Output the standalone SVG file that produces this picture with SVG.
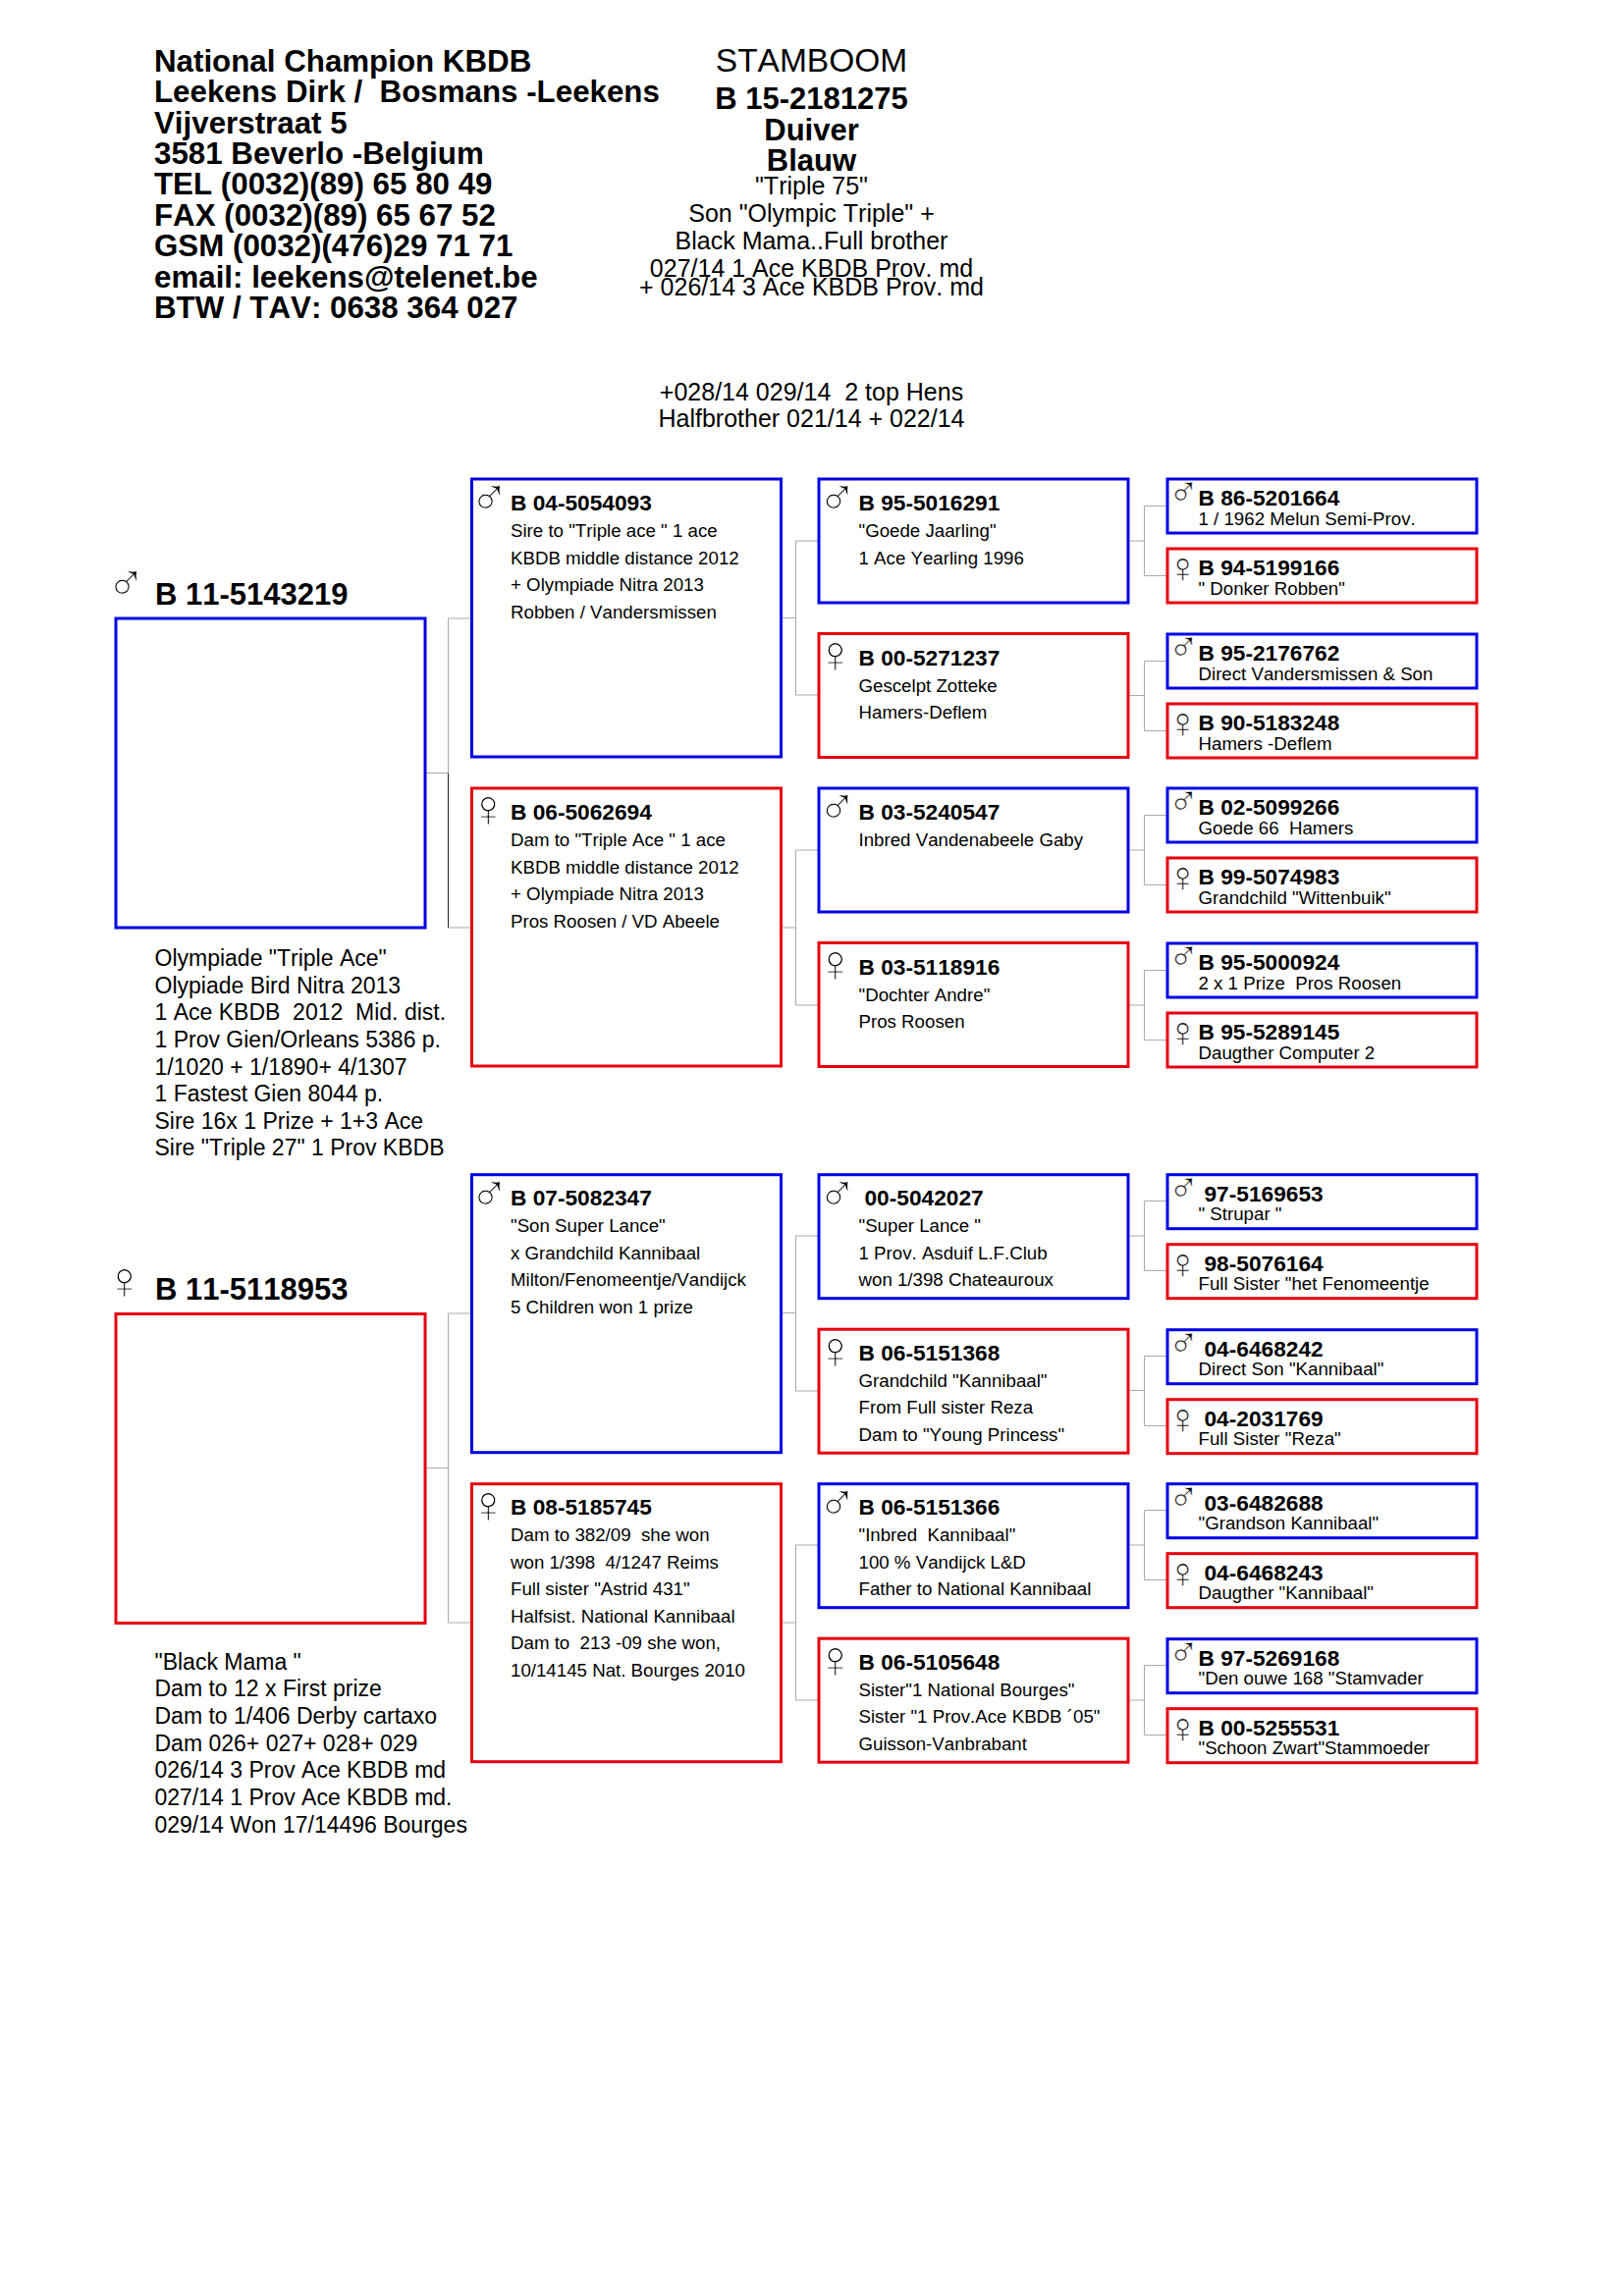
<svg xmlns="http://www.w3.org/2000/svg" width="1653" height="2339" viewBox="0 0 1653 2339">
<style>
text{font-family:"Liberation Sans",Arial,sans-serif;fill:#000;font-kerning:none;white-space:pre}
.h{font-size:31.3px;font-weight:bold}
.c{font-size:25px;text-anchor:middle}
.cb{font-size:31px;font-weight:bold;text-anchor:middle}
.n{font-size:22.7px;font-weight:bold}
.d{font-size:18.7px}
.t{font-size:23px}
.g1{font-size:31px;font-weight:bold}
.sm,.sf{stroke:#fff;stroke-width:.8px}
.sm4,.sf4{stroke:#fff;stroke-width:.45px}
.sm{font-size:54px}.sf{font-size:54px}.sm4{font-size:42px}.sf4{font-size:43px}
rect{fill:#fff;stroke-width:3}
.m{stroke:#0000e6}.f{stroke:#e6000f}
#connectors path{fill:none;stroke:#aaa;stroke-width:1}
</style>
<g id="connectors">
<path d="M433 787.5H456.5M456.5 630V945M456.5 630H481M456.5 945H481"/>
<path d="M433 1495.5H456.5M456.5 1338V1653M456.5 1338H481M456.5 1653H481"/>
<path style="stroke:#222" d="M456.5 787.5V945"/>
<path d="M796 629.5H810.5M810.5 551V708M810.5 551H834M810.5 708H834"/>
<path d="M796 945H810.5M810.5 866V1024M810.5 866H834M810.5 1024H834"/>
<path d="M796 1337.5H810.5M810.5 1259V1417M810.5 1259H834M810.5 1417H834"/>
<path d="M796 1653H810.5M810.5 1574V1732M810.5 1574H834M810.5 1732H834"/>
<path d="M1149 551H1165.5M1165.5 515.5V586.5M1165.5 515.5H1189M1165.5 586.5H1189"/>
<path d="M1149 708.5H1165.5M1165.5 673.5V744.5M1165.5 673.5H1189M1165.5 744.5H1189"/>
<path d="M1149 866H1165.5M1165.5 830.5V901.5M1165.5 830.5H1189M1165.5 901.5H1189"/>
<path d="M1149 1024H1165.5M1165.5 988.5V1059.5M1165.5 988.5H1189M1165.5 1059.5H1189"/>
<path d="M1149 1259H1165.5M1165.5 1223.5V1294.5M1165.5 1223.5H1189M1165.5 1294.5H1189"/>
<path d="M1149 1416.5H1165.5M1165.5 1381.5V1452.5M1165.5 1381.5H1189M1165.5 1452.5H1189"/>
<path d="M1149 1574H1165.5M1165.5 1538.5V1609.5M1165.5 1538.5H1189M1165.5 1609.5H1189"/>
<path d="M1149 1732H1165.5M1165.5 1696.5V1767.5M1165.5 1696.5H1189M1165.5 1767.5H1189"/>
</g>
<g id="header">
<text class="h" x="157" y="73">National Champion KBDB</text>
<text class="h" x="157" y="104">Leekens Dirk /  Bosmans -Leekens</text>
<text class="h" x="157" y="136">Vijverstraat 5</text>
<text class="h" x="157" y="167">3581 Beverlo -Belgium</text>
<text class="h" x="157" y="198">TEL (0032)(89) 65 80 49</text>
<text class="h" x="157" y="230">FAX (0032)(89) 65 67 52</text>
<text class="h" x="157" y="261">GSM (0032)(476)29 71 71</text>
<text class="h" x="157" y="293">email: leekens@telenet.be</text>
<text class="h" x="157" y="324">BTW / TAV: 0638 364 027</text>
</g>
<g id="title">
<text x="826.5" y="73" font-size="33.5" text-anchor="middle">STAMBOOM</text>
<text class="cb" x="826.5" y="111">B 15-2181275</text>
<text class="cb" x="826.5" y="143">Duiver</text>
<text class="cb" x="826.5" y="174">Blauw</text>
<text class="c" x="826.5" y="198">"Triple 75"</text>
<text class="c" x="826.5" y="226">Son "Olympic Triple" +</text>
<text class="c" x="826.5" y="254">Black Mama..Full brother</text>
<text class="c" x="826.5" y="282">027/14 1 Ace KBDB Prov. md</text>
<text class="c" x="826.5" y="301">+ 026/14 3 Ace KBDB Prov. md</text>
<text class="c" x="826.5" y="408">+028/14 029/14  2 top Hens</text>
<text class="c" x="826.5" y="435">Halfbrother 021/14 + 022/14</text>
</g>
<g id="n-b11-5143219">
<text class="sm" x="108" y="612">♂</text>
<text class="g1" x="158" y="616">B 11-5143219</text>
<rect class="m" x="118" y="630" width="315" height="315"/>
<text class="t" x="157.5" y="984">Olympiade "Triple Ace"</text>
<text class="t" x="157.5" y="1012">Olypiade Bird Nitra 2013</text>
<text class="t" x="157.5" y="1039">1 Ace KBDB  2012  Mid. dist.</text>
<text class="t" x="157.5" y="1067">1 Prov Gien/Orleans 5386 p.</text>
<text class="t" x="157.5" y="1095">1/1020 + 1/1890+ 4/1307</text>
<text class="t" x="157.5" y="1122">1 Fastest Gien 8044 p.</text>
<text class="t" x="157.5" y="1150">Sire 16x 1 Prize + 1+3 Ace</text>
<text class="t" x="157.5" y="1177">Sire "Triple 27" 1 Prov KBDB</text>
</g>
<g id="n-b11-5118953">
<text class="sf" x="106.5" y="1323">♀</text>
<text class="g1" x="158" y="1324">B 11-5118953</text>
<rect class="f" x="118" y="1338.5" width="315" height="315"/>
<text class="t" x="157.5" y="1700.5">"Black Mama "</text>
<text class="t" x="157.5" y="1728">Dam to 12 x First prize</text>
<text class="t" x="157.5" y="1755.5">Dam to 1/406 Derby cartaxo</text>
<text class="t" x="157.5" y="1783.5">Dam 026+ 027+ 028+ 029</text>
<text class="t" x="157.5" y="1810.5">026/14 3 Prov Ace KBDB md</text>
<text class="t" x="157.5" y="1838.5">027/14 1 Prov Ace KBDB md.</text>
<text class="t" x="157.5" y="1866.5">029/14 Won 17/14496 Bourges</text>
</g>
<g id="n-b04-5054093">
<rect class="m" x="480.5" y="488" width="315" height="283"/>
<text class="sm" x="478" y="525">♂</text>
<text class="n" x="520" y="520">B 04-5054093</text>
<text class="d" x="520" y="547">Sire to "Triple ace " 1 ace</text>
<text class="d" x="520" y="574.5">KBDB middle distance 2012</text>
<text class="d" x="520" y="602">+ Olympiade Nitra 2013</text>
<text class="d" x="520" y="629.5">Robben / Vandersmissen</text>
</g>
<g id="n-b06-5062694">
<rect class="f" x="480.5" y="803" width="315" height="283"/>
<text class="sf" x="477" y="842">♀</text>
<text class="n" x="520" y="835">B 06-5062694</text>
<text class="d" x="520" y="862">Dam to "Triple Ace " 1 ace</text>
<text class="d" x="520" y="889.5">KBDB middle distance 2012</text>
<text class="d" x="520" y="917">+ Olympiade Nitra 2013</text>
<text class="d" x="520" y="944.5">Pros Roosen / VD Abeele</text>
</g>
<g id="n-b07-5082347">
<rect class="m" x="480.5" y="1196.7" width="315" height="283"/>
<text class="sm" x="478" y="1233.7">♂</text>
<text class="n" x="520" y="1228.2">B 07-5082347</text>
<text class="d" x="520" y="1255.2">"Son Super Lance"</text>
<text class="d" x="520" y="1282.7">x Grandchild Kannibaal</text>
<text class="d" x="520" y="1310.2">Milton/Fenomeentje/Vandijck</text>
<text class="d" x="520" y="1337.7">5 Children won 1 prize</text>
</g>
<g id="n-b08-5185745">
<rect class="f" x="480.5" y="1511.7" width="315" height="283"/>
<text class="sf" x="477" y="1550.7">♀</text>
<text class="n" x="520" y="1543.2">B 08-5185745</text>
<text class="d" x="520" y="1570.2">Dam to 382/09  she won</text>
<text class="d" x="520" y="1597.7">won 1/398  4/1247 Reims</text>
<text class="d" x="520" y="1625.2">Full sister "Astrid 431"</text>
<text class="d" x="520" y="1652.7">Halfsist. National Kannibaal</text>
<text class="d" x="520" y="1680.2">Dam to  213 -09 she won,</text>
<text class="d" x="520" y="1707.7">10/14145 Nat. Bourges 2010</text>
</g>
<g id="n-b95-5016291">
<rect class="m" x="834" y="488" width="315" height="126"/>
<text class="sm" x="832.5" y="525">♂</text>
<text class="n" x="874.5" y="520">B 95-5016291</text>
<text class="d" x="874.5" y="547">"Goede Jaarling"</text>
<text class="d" x="874.5" y="574.5">1 Ace Yearling 1996</text>
</g>
<g id="n-b00-5271237">
<rect class="f" x="834" y="645.5" width="315" height="126"/>
<text class="sf" x="830.5" y="685">♀</text>
<text class="n" x="874.5" y="677.5">B 00-5271237</text>
<text class="d" x="874.5" y="704.5">Gescelpt Zotteke</text>
<text class="d" x="874.5" y="732">Hamers-Deflem</text>
</g>
<g id="n-b03-5240547">
<rect class="m" x="834" y="803" width="315" height="126"/>
<text class="sm" x="832.5" y="840">♂</text>
<text class="n" x="874.5" y="835">B 03-5240547</text>
<text class="d" x="874.5" y="862">Inbred Vandenabeele Gaby</text>
</g>
<g id="n-b03-5118916">
<rect class="f" x="834" y="960.5" width="315" height="126"/>
<text class="sf" x="830.5" y="1000">♀</text>
<text class="n" x="874.5" y="992.5">B 03-5118916</text>
<text class="d" x="874.5" y="1019.5">"Dochter Andre"</text>
<text class="d" x="874.5" y="1047">Pros Roosen</text>
</g>
<g id="n-00-5042027">
<rect class="m" x="834" y="1196.7" width="315" height="126"/>
<text class="sm" x="832.5" y="1233.7">♂</text>
<text class="n" x="880.5" y="1228.2">00-5042027</text>
<text class="d" x="874.5" y="1255.2">"Super Lance "</text>
<text class="d" x="874.5" y="1282.7">1 Prov. Asduif L.F.Club</text>
<text class="d" x="874.5" y="1310.2">won 1/398 Chateauroux</text>
</g>
<g id="n-b06-5151368">
<rect class="f" x="834" y="1354.2" width="315" height="126"/>
<text class="sf" x="830.5" y="1393.7">♀</text>
<text class="n" x="874.5" y="1385.7">B 06-5151368</text>
<text class="d" x="874.5" y="1412.7">Grandchild "Kannibaal"</text>
<text class="d" x="874.5" y="1440.2">From Full sister Reza</text>
<text class="d" x="874.5" y="1467.7">Dam to "Young Princess"</text>
</g>
<g id="n-b06-5151366">
<rect class="m" x="834" y="1511.7" width="315" height="126"/>
<text class="sm" x="832.5" y="1548.7">♂</text>
<text class="n" x="874.5" y="1543.2">B 06-5151366</text>
<text class="d" x="874.5" y="1570.2">"Inbred  Kannibaal"</text>
<text class="d" x="874.5" y="1597.7">100 % Vandijck L&amp;D</text>
<text class="d" x="874.5" y="1625.2">Father to National Kannibaal</text>
</g>
<g id="n-b06-5105648">
<rect class="f" x="834" y="1669.2" width="315" height="126"/>
<text class="sf" x="830.5" y="1708.7">♀</text>
<text class="n" x="874.5" y="1700.7">B 06-5105648</text>
<text class="d" x="874.5" y="1727.7">Sister"1 National Bourges"</text>
<text class="d" x="874.5" y="1755.2">Sister "1 Prov.Ace KBDB ´05"</text>
<text class="d" x="874.5" y="1782.7">Guisson-Vanbrabant</text>
</g>
<g id="n-b86-5201664"><rect class="m" x="1189" y="488" width="315" height="55"/><text class="sm4" x="1189.7" y="515">♂</text><text class="n" x="1220.5" y="515">B 86-5201664</text><text class="d" x="1220.5" y="535">1 / 1962 Melun Semi-Prov.</text></g>
<g id="n-b94-5199166"><rect class="f" x="1189" y="559" width="315" height="55"/><text class="sf4" x="1188.4" y="593">♀</text><text class="n" x="1220.5" y="586">B 94-5199166</text><text class="d" x="1220.5" y="606">" Donker Robben"</text></g>
<g id="n-b95-2176762"><rect class="m" x="1189" y="646" width="315" height="55"/><text class="sm4" x="1189.7" y="673">♂</text><text class="n" x="1220.5" y="673">B 95-2176762</text><text class="d" x="1220.5" y="693">Direct Vandersmissen &amp; Son</text></g>
<g id="n-b90-5183248"><rect class="f" x="1189" y="717" width="315" height="55"/><text class="sf4" x="1188.4" y="751">♀</text><text class="n" x="1220.5" y="744">B 90-5183248</text><text class="d" x="1220.5" y="764">Hamers -Deflem</text></g>
<g id="n-b02-5099266"><rect class="m" x="1189" y="803" width="315" height="55"/><text class="sm4" x="1189.7" y="830">♂</text><text class="n" x="1220.5" y="830">B 02-5099266</text><text class="d" x="1220.5" y="850">Goede 66  Hamers</text></g>
<g id="n-b99-5074983"><rect class="f" x="1189" y="874" width="315" height="55"/><text class="sf4" x="1188.4" y="908">♀</text><text class="n" x="1220.5" y="901">B 99-5074983</text><text class="d" x="1220.5" y="921">Grandchild "Wittenbuik"</text></g>
<g id="n-b95-5000924"><rect class="m" x="1189" y="961" width="315" height="55"/><text class="sm4" x="1189.7" y="988">♂</text><text class="n" x="1220.5" y="988">B 95-5000924</text><text class="d" x="1220.5" y="1008">2 x 1 Prize  Pros Roosen</text></g>
<g id="n-b95-5289145"><rect class="f" x="1189" y="1032" width="315" height="55"/><text class="sf4" x="1188.4" y="1066">♀</text><text class="n" x="1220.5" y="1059">B 95-5289145</text><text class="d" x="1220.5" y="1079">Daugther Computer 2</text></g>
<g id="n-97-5169653"><rect class="m" x="1189" y="1196.7" width="315" height="55"/><text class="sm4" x="1189.7" y="1223.7">♂</text><text class="n" x="1226.5" y="1223.7">97-5169653</text><text class="d" x="1220.5" y="1243.2">" Strupar "</text></g>
<g id="n-98-5076164"><rect class="f" x="1189" y="1267.7" width="315" height="55"/><text class="sf4" x="1188.4" y="1301.7">♀</text><text class="n" x="1226.5" y="1294.7">98-5076164</text><text class="d" x="1220.5" y="1314.2">Full Sister "het Fenomeentje</text></g>
<g id="n-04-6468242"><rect class="m" x="1189" y="1354.7" width="315" height="55"/><text class="sm4" x="1189.7" y="1381.7">♂</text><text class="n" x="1226.5" y="1381.7">04-6468242</text><text class="d" x="1220.5" y="1401.2">Direct Son "Kannibaal"</text></g>
<g id="n-04-2031769"><rect class="f" x="1189" y="1425.7" width="315" height="55"/><text class="sf4" x="1188.4" y="1459.7">♀</text><text class="n" x="1226.5" y="1452.7">04-2031769</text><text class="d" x="1220.5" y="1472.2">Full Sister "Reza"</text></g>
<g id="n-03-6482688"><rect class="m" x="1189" y="1511.7" width="315" height="55"/><text class="sm4" x="1189.7" y="1538.7">♂</text><text class="n" x="1226.5" y="1538.7">03-6482688</text><text class="d" x="1220.5" y="1558.2">"Grandson Kannibaal"</text></g>
<g id="n-04-6468243"><rect class="f" x="1189" y="1582.7" width="315" height="55"/><text class="sf4" x="1188.4" y="1616.7">♀</text><text class="n" x="1226.5" y="1609.7">04-6468243</text><text class="d" x="1220.5" y="1629.2">Daugther "Kannibaal"</text></g>
<g id="n-b97-5269168"><rect class="m" x="1189" y="1669.7" width="315" height="55"/><text class="sm4" x="1189.7" y="1696.7">♂</text><text class="n" x="1220.5" y="1696.7">B 97-5269168</text><text class="d" x="1220.5" y="1716.2">"Den ouwe 168 "Stamvader</text></g>
<g id="n-b00-5255531"><rect class="f" x="1189" y="1740.7" width="315" height="55"/><text class="sf4" x="1188.4" y="1774.7">♀</text><text class="n" x="1220.5" y="1767.7">B 00-5255531</text><text class="d" x="1220.5" y="1787.2">"Schoon Zwart"Stammoeder</text></g>
</svg>
